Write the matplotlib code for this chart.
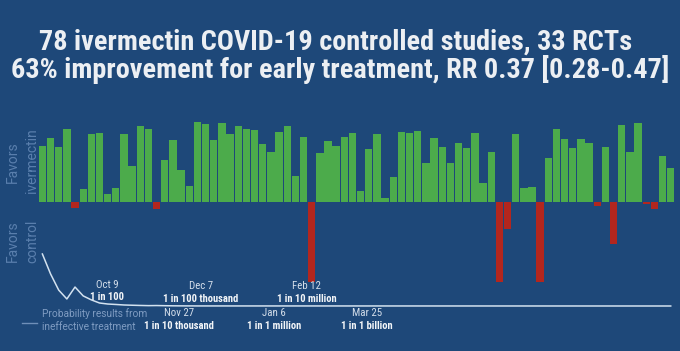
import matplotlib
matplotlib.use("Agg")
import matplotlib.pyplot as plt
from matplotlib import font_manager

# effect of each study, % improvement (negative = favors control), in date order
effects = [70, 80, 69, 91, -7, 16, 85, 87, 10, 17,
           85, 45, 95, 91, -9, 53, 78, 40, 20, 100,
           98, 78, 99, 85, 95, 92, 90, 73, 63, 88,
           95, 33, 82, -100, 62, 77, 70, 82, 86, 14,
           66, 85, 5, 31, 88, 86, 89, 49, 80, 69,
           49, 74, 68, 87, 24, 63, -100, -34, 85, 17,
           19, -100, 55, 92, 79, 68, 79, 74, -5, 69,
           -53, 96, 63, 99, -3, -9, 58, 43]
studies = list(range(1, len(effects) + 1))

# probability that results come from an ineffective treatment, after each study
curve_study = [1, 2, 3, 4, 5, 6, 7, 8, 9, 10, 11, 12, 13, 14, 15, 16, 17, 18, 20, 78]
curve_prob = [0.17, 0.105, 0.052, 0.023, 0.062, 0.033, 0.02, 0.0098, 0.0065, 0.005,
              0.0033, 0.0025, 0.0018, 0.0012, 0.0015, 0.001, 0.0006, 0.0004, 0.0002, 0.0]

milestone_dates = ["Oct 9", "Nov 27", "Dec 7", "Jan 6", "Feb 12", "Mar 25"]
milestone_probs = ["1 in 100", "1 in 10 thousand", "1 in 100 thousand",
                   "1 in 1 million", "1 in 10 million", "1 in 1 billion"]

title_lines = ["78 ivermectin COVID-19 controlled studies, 33 RCTs",
               "63% improvement for early treatment, RR 0.37 [0.28-0.47]"]

BG = "#1e4879"
GREEN = "#4cab4b"
RED = "#b3261e"
FADED = "#5a7fad"

names = {f.name for f in font_manager.fontManager.ttflist}
cond_font = next((n for n in ["Roboto Condensed", "Barlow Semi Condensed", "Archivo Narrow",
                              "Asap Condensed", "Liberation Sans Narrow"] if n in names), "DejaVu Sans")

W, H = 680, 351
fig = plt.figure(figsize=(W / 100, H / 100), dpi=100, facecolor=BG)


def fx(x):
    return x / W


def fy(y):
    return 1 - y / H


# bars: x 38.3..674.8 px, y +100 at 122.3 px, -100 at 281.7 px
ax = fig.add_axes([fx(38.3), fy(281.7), (674.8 - 38.3) / W, (281.7 - 122.3) / H])
ax.set_facecolor("none")
colors = [GREEN if e >= 0 else RED for e in effects]
ax.bar(studies, effects, width=0.9, color=colors, linewidth=0)
ax.set_xlim(0.5, len(effects) + 0.5)
ax.set_ylim(-100, 100)
ax.axis("off")

# probability curve below the bars
ax2 = fig.add_axes([fx(38.3), fy(306), (674.8 - 38.3) / W, 52 / H])
ax2.set_facecolor("none")
ax2.plot(curve_study, curve_prob, color="#d3e2f0", lw=1.1, clip_on=False)
ax2.set_xlim(0.5, len(effects) + 0.5)
ax2.set_ylim(0, 0.17)
ax2.axis("off")

# side labels
for x, y, s in [(12.5, 162, "Favors"), (32, 161, "ivermectin"),
                (12.5, 241, "Favors"), (32, 241, "control")]:
    fig.text(fx(x), fy(y), s, rotation=90, ha="center", va="center",
             color=FADED, fontsize=10, family="Roboto")

# legend for the curve
fig.add_artist(plt.Line2D([fx(21.7), fx(37.3)], [fy(322.7), fy(322.7)],
                          color="#6f8fb8", lw=1))
fig.text(fx(42), fy(314), "Probability results from", ha="left", va="center",
         color="#7f9cc2", fontsize=7.3, family="Roboto")
fig.text(fx(42), fy(327), "ineffective treatment", ha="left", va="center",
         color="#7f9cc2", fontsize=7.3, family="Roboto")

# milestone annotations (x centre, y of date line)
ann_pos = [(107, 284.5), (179.3, 313.3), (201, 286), (274.3, 313.3), (306.7, 286), (367, 313.3)]
for (x, y), d, p in zip(ann_pos, milestone_dates, milestone_probs):
    fig.text(fx(x), fy(y), d, ha="center", va="center", color="#d5dfeb",
             fontsize=7.8, family=cond_font)
    fig.text(fx(x), fy(y + 13), p, ha="center", va="center", color="#f2f5f8",
             fontsize=7.6, family=cond_font, weight="bold")

# title
fig.text(fx(336), fy(49.3), title_lines[0], ha="center", va="baseline", color="#eceff3",
         fontsize=20.3, family=cond_font, weight="bold")
fig.text(fx(340), fy(78.3), title_lines[1], ha="center", va="baseline", color="#eceff3",
         fontsize=20.3, family=cond_font, weight="bold")

fig.savefig("out.png", dpi=100, facecolor=BG)
